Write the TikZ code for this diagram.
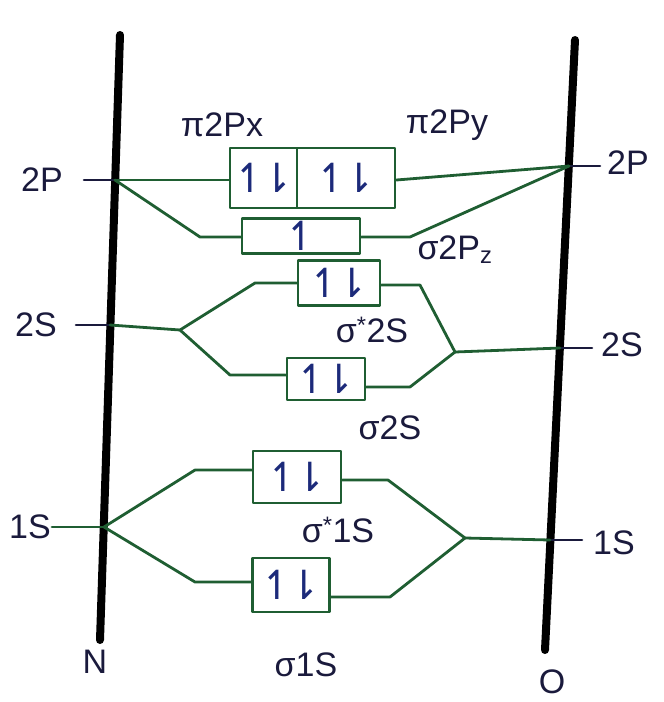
\documentclass[tikz,border=0pt]{standalone}
\usepackage{fontspec}
\setsansfont{Liberation Sans}
\newfontfamily\spinfont{DejaVu Sans}
\definecolor{bondgreen}{HTML}{1F5E32}
\definecolor{penink}{HTML}{1A1A3C}
\definecolor{spinblue}{HTML}{1C2A7A}
\newcommand\spinpair{{\spinfont ↿\kern-7pt⇂}}
\newcommand\spinup{{\spinfont ↿}}

\begin{document}
\begin{tikzpicture}[
  x=1pt,
  y=-1pt,
  line join=round,
  line cap=round,
  atomline/.style={draw=black,line width=8pt},
  leveltick/.style={draw=penink,line width=2.6pt},
  link/.style={draw=bondgreen,line width=2.8pt},
  mobox/.style={draw=bondgreen,line width=2.8pt,inner sep=0pt,
    font=\fontsize{40}{40}\selectfont,text=spinblue},
  lbl/.style={font=\sffamily\fontsize{34}{36}\selectfont,text=penink}
]
  \useasboundingbox (0,0) rectangle (664,702);

  % Atom energy axes, N on the left and O on the right.
  \draw[atomline] (120,35) -- (100,640);
  \draw[atomline] (575,40) -- (545,650);
  \node[lbl] (nameN) at (95,662) {N};
  \node[lbl] (nameO) at (552,682) {O};

  % Atomic levels on both axes.
  \coordinate (N2p) at (115,180);
  \coordinate (N2s) at (110,325);
  \coordinate (N1s) at (104,527);
  \coordinate (O2p) at (569,166);
  \coordinate (O2s) at (560,348);
  \coordinate (O1s) at (550,540);
  \draw[leveltick] (84,180) -- (N2p);
  \draw[leveltick] (76,325) -- (N2s);
  \draw[link] (52,527) -- (N1s);
  \draw[leveltick] (O2p) -- (600,166);
  \draw[leveltick] (O2s) -- (592,348);
  \draw[leveltick] (O1s) -- (582,540);
  \node[lbl] (lN2p) at (42,180) {2P};
  \node[lbl] (lN2s) at (36,325) {2S};
  \node[lbl] (lN1s) at (30,527) {1S};
  \node[lbl] (lO2p) at (628,163) {2P};
  \node[lbl] (lO2s) at (622,345) {2S};
  \node[lbl] (lO1s) at (614,543) {1S};

  % Molecular orbital boxes.
  \node[mobox,minimum width=67,minimum height=60] (pix) at (263.5,178) {\spinpair};
  \node[mobox,minimum width=98,minimum height=60] (piy) at (346,178) {\spinpair};
  \node[mobox,minimum width=118,minimum height=35] (sig2pz) at (301,236) {\spinup};
  \node[mobox,minimum width=82,minimum height=45] (sigs2s) at (339,283) {\spinpair};
  \node[mobox,minimum width=78,minimum height=42] (sig2s) at (326,379) {\spinpair};
  \node[mobox,minimum width=88,minimum height=52] (sigs1s) at (297,477) {\spinpair};
  \node[mobox,minimum width=77,minimum height=54] (sig1s) at (291,585) {\spinpair};

  \node[lbl] (lpix) at (222,125) {π2Px};
  \node[lbl] (lpiy) at (447,125) {π2Py};
  \node[lbl] (lsig2pz) at (455,250) {σ2P\textsubscript{z}};
  \node[lbl] (lsigs2s) at (372,330) {σ\textsuperscript{*}2S};
  \node[lbl] (lsig2s) at (390,428) {σ2S};
  \node[lbl] (lsigs1s) at (338,530) {σ\textsuperscript{*}1S};
  \node[lbl] (lsig1s) at (306,665) {σ1S};

  % Junction points where the correlation lines split.
  \coordinate (j2sL) at (180,330);
  \coordinate (j2sR) at (455,352);
  \coordinate (j1sR) at (465,538);

  % 2p correlation lines.
  \draw[link] (N2p) -- ([yshift=-2pt]pix.west);
  \draw[link] ([yshift=-2pt]piy.east) -- (O2p);
  \draw[link] (N2p) -- (200,237) -- ([yshift=-1pt]sig2pz.west);
  \draw[link] ([yshift=-1pt]sig2pz.east) -- (410,237) -- (O2p);

  % 2s correlation lines.
  \draw[link] (N2s) -- (j2sL);
  \draw[link] (j2sL) -- (255,283) -- (sigs2s.west);
  \draw[link] (j2sL) -- (230,375) -- ([yshift=4pt]sig2s.west);
  \draw[link] ([yshift=-2pt]sigs2s.east) -- (420,285) -- (j2sR);
  \draw[link] ([yshift=-8pt]sig2s.east) -- (410,387) -- (j2sR);
  \draw[link] (j2sR) -- (O2s);

  % 1s correlation lines.
  \draw[link] (N1s) -- (195,470) -- ([yshift=7pt]sigs1s.west);
  \draw[link] (N1s) -- (195,582) -- ([yshift=3pt]sig1s.west);
  \draw[link] ([yshift=-3pt]sigs1s.east) -- (388,480) -- (j1sR);
  \draw[link] ([yshift=-12pt]sig1s.east) -- (390,597) -- (j1sR);
  \draw[link] (j1sR) -- (O1s);
\end{tikzpicture}
\end{document}
